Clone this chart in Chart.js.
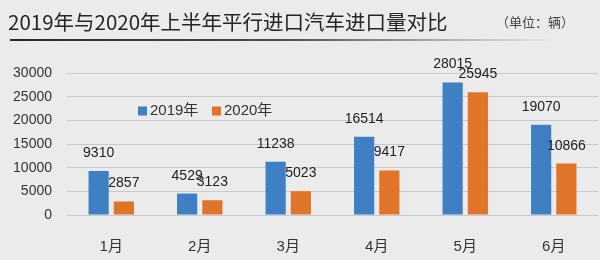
<!DOCTYPE html>
<html>
<head>
<meta charset="utf-8">
<script src="https://cdn.jsdelivr.net/npm/chart.js@4/dist/chart.umd.min.js"></script>
<style>
  html, body { margin: 0; padding: 0; background: #ebebeb; }
  #wrap { width: 600px; height: 260px; position: relative; }
</style>
</head>
<body>
<div id="wrap"><canvas id="c" width="600" height="260"></canvas></div>
<script>
const months = ['1月', '2月', '3月', '4月', '5月', '6月'];
const imports2019 = [9310, 4529, 11238, 16514, 28015, 19070];
const imports2020 = [2857, 3123, 5023, 9417, 25945, 10866];
const yTicks = [0, 5000, 10000, 15000, 20000, 25000, 30000];
const seriesNames = ['2019年', '2020年'];
const titleText = '2019年与2020年上半年平行进口汽车进口量对比';
const unitText = '（单位：辆）';

const BLUE = '#3f7fc4';
const ORANGE = '#e07428';
const FONT = '"Liberation Sans", "Noto Sans CJK SC", sans-serif';
const CJK = '"Noto Sans CJK SC", sans-serif';

// Header: title, unit note and the fading rule underneath
const header = {
  id: 'header',
  beforeDraw(chart) {
    const ctx = chart.ctx;
    ctx.save();
    ctx.fillStyle = '#ebebeb';
    ctx.fillRect(0, 0, chart.width, chart.height);
    ctx.fillStyle = '#262626';
    ctx.font = '20.5px ' + CJK;
    ctx.textBaseline = 'middle';
    ctx.textAlign = 'left';
    ctx.fillText(titleText, 8, 22);
    ctx.fillStyle = '#444';
    ctx.font = '13px ' + CJK;
    ctx.fillText(unitText, 496, 22);
    const g = ctx.createLinearGradient(10, 0, 560, 0);
    g.addColorStop(0, 'rgba(40,40,40,1)');
    g.addColorStop(0.5, 'rgba(60,60,60,0.9)');
    g.addColorStop(1, 'rgba(80,80,80,0)');
    ctx.fillStyle = g;
    ctx.fillRect(10, 39, 550, 2);
    ctx.restore();
  }
};

// Legend drawn inside the plot area, plus value labels above each bar
const overlay = {
  id: 'overlay',
  afterDatasetsDraw(chart) {
    const ctx = chart.ctx;
    ctx.save();
    // value labels
    ctx.font = '14px ' + FONT;
    ctx.fillStyle = '#222';
    ctx.textAlign = 'center';
    ctx.textBaseline = 'alphabetic';
    chart.data.datasets.forEach((ds, i) => {
      const meta = chart.getDatasetMeta(i);
      meta.data.forEach((bar, j) => {
        ctx.fillText(String(ds.data[j]), bar.x, bar.y - 14);
      });
    });
    // legend
    const lx = [138, 212];
    const ly = 111;
    ctx.font = '15px ' + FONT;
    ctx.textAlign = 'left';
    ctx.textBaseline = 'middle';
    chart.data.datasets.forEach((ds, i) => {
      ctx.fillStyle = ds.backgroundColor;
      ctx.fillRect(lx[i], ly - 4.5, 9, 9);
      ctx.fillStyle = '#333';
      ctx.fillText(ds.label, lx[i] + 12, ly);
    });
    ctx.restore();
  }
};

new Chart(document.getElementById('c'), {
  type: 'bar',
  data: {
    labels: months,
    datasets: [
      { label: seriesNames[0], data: imports2019, backgroundColor: BLUE },
      { label: seriesNames[1], data: imports2020, backgroundColor: ORANGE }
    ]
  },
  options: {
    responsive: false,
    animation: false,
    devicePixelRatio: 1,
    layout: { padding: { top: 73, right: 2, left: 0, bottom: 0 } },
    datasets: { bar: { categoryPercentage: 0.57, barPercentage: 0.8 } },
    plugins: { legend: { display: false }, tooltip: { enabled: false } },
    scales: {
      x: {
        grid: { display: false, drawTicks: false },
        border: { display: false },
        ticks: { color: '#333', font: { size: 15, family: FONT }, padding: 23 },
        afterFit(s) { s.height = 45; }
      },
      y: {
        min: 0,
        max: 30000,
        afterBuildTicks(s) { s.ticks = yTicks.map(v => ({ value: v })); },
        grid: { color: '#c9c9c9', lineWidth: 1, drawTicks: false },
        border: { display: false },
        ticks: {
          color: '#333',
          font: { size: 14, family: FONT },
          padding: 15,
          callback: v => String(v)
        },
        afterFit(s) { s.width = 67; }
      }
    }
  },
  plugins: [header, overlay]
});
</script>
</body>
</html>
